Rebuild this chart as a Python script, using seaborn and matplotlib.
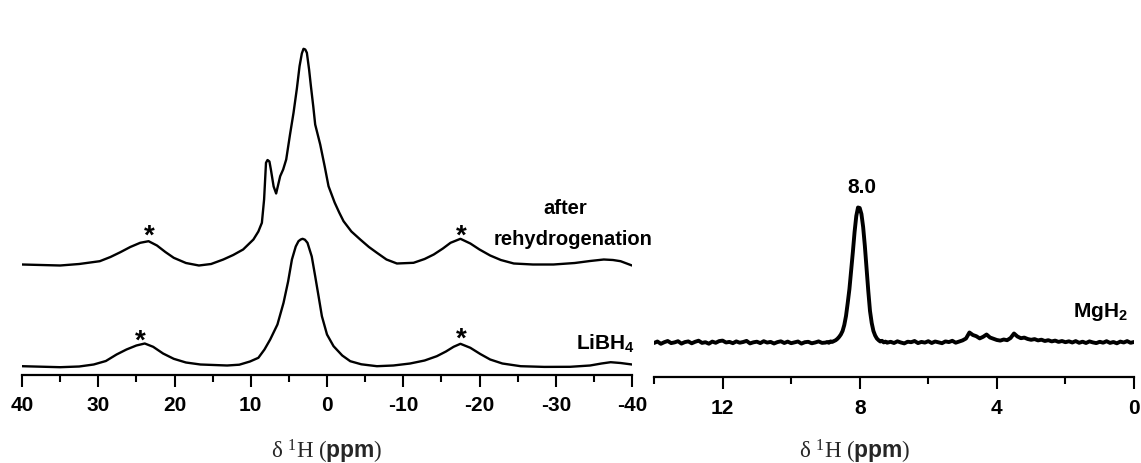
import numpy as np
import pandas as pd
import matplotlib
matplotlib.use("Agg")
import matplotlib.pyplot as plt
import seaborn as sns
from matplotlib.ticker import MultipleLocator

# ---------------- data ----------------
# LiBH4 spectrum (left panel, lower trace): chemical shift (ppm) / intensity
libh4_ppm = [40.0, 37.5, 35.0, 32.5, 30.6, 29.0, 27.6, 26.3, 25.0, 23.9, 22.8, 21.5,
             20.1, 18.5, 16.6, 13.1, 11.5, 10.1, 9.0, 8.2, 7.45, 6.5, 5.7, 5.1, 4.6,
             4.1, 3.74, 3.45, 3.2, 2.9, 2.56, 2.0, 1.55, 1.1, 0.67, 0.0, -0.86, -2.0, -3.05,
             -4.5, -6.55, -8.7, -10.9, -12.8, -14.4, -15.6, -16.6, -17.5, -18.8,
             -20.1, -21.4, -23.0, -25.4, -28.5, -31.9, -34.5, -36.0, -37.2, -38.5, -40.0]
libh4_int = [8.3, 7.8, 7.3, 8.0, 10.0, 13.5, 20.0, 25.0, 29.0, 31.0, 27.7, 21.0,
             15.7, 12.0, 10.0, 9.0, 9.8, 13.0, 16.7, 25.0, 35.0, 50.0, 71.7, 93.0, 115.0,
             128.0, 133.3, 135.0, 135.7, 134.8, 131.7, 118.0, 98.3, 78.0, 58.3, 40.0, 28.3, 19.0, 13.3,
             10.2, 8.3, 9.0, 11.0, 14.0, 18.3, 23.0, 27.7, 30.7, 26.7,
             20.5, 15.0, 11.0, 8.3, 7.6, 7.7, 9.0, 11.0, 12.3, 11.5, 10.0]

# after rehydrogenation (left panel, upper trace)
rehyd_ppm = [40.0, 37.5, 35.0, 32.5, 29.8, 28.4, 27.1, 25.8, 24.5, 23.4, 22.3, 21.2,
             20.1, 18.5, 16.8, 15.2, 13.6, 12.3, 11.0, 9.65, 9.0, 8.54, 8.25, 8.0,
             7.8, 7.55, 7.36, 7.0, 6.67, 6.14, 5.75, 5.35, 4.85, 4.39, 3.95, 3.6, 3.3, 3.08,
             2.85, 2.64, 2.35, 2.11, 1.8, 1.55, 0.89, 0.3, -0.2, -1.0, -1.6, -2.17, -3.2,
             -4.36, -5.5, -6.55, -7.8, -9.17, -11.35, -12.8, -14.0, -15.2, -16.2,
             -17.5, -18.8, -20.0, -21.4, -22.8, -24.5, -27.0, -29.7, -32.5, -34.5,
             -36.3, -37.5, -38.5, -40.0]
rehyd_int = [110.0, 109.5, 109.0, 110.5, 113.3, 117.5, 122.3, 127.5, 131.7, 133.3, 129.0, 122.5,
             116.7, 111.5, 109.0, 110.5, 115.0, 119.5, 125.0, 135.0, 143.0, 151.7, 175.0, 211.7,
             214.5, 213.0, 205.0, 188.0, 181.0, 198.3, 205.0, 215.0, 240.0, 261.7, 286.0, 308.3, 321.0, 325.7,
             325.0, 321.7, 305.0, 288.3, 268.0, 250.0, 230.0, 208.0, 188.3, 172.0, 162.0, 153.3, 143.0,
             135.0, 127.5, 121.7, 115.0, 111.0, 111.7, 115.5, 120.0, 126.0, 131.7,
             135.7, 131.0, 125.0, 119.0, 114.5, 111.0, 110.0, 110.0, 111.5, 113.5,
             115.0, 114.5, 113.3, 109.0]

# MgH2 spectrum (right panel)
mgh2_ppm = np.concatenate([np.linspace(14.0, 9.0, 51),
                           np.linspace(8.95, 7.20, 36),
                           np.linspace(7.1, 0.0, 72)])
mgh2_int = [34.0, 35.5, 33.2, 34.8, 36.0, 33.9, 34.6, 35.8, 33.4, 34.9,
            35.6, 33.7, 35.2, 36.3, 34.1, 34.8, 33.3, 35.4, 34.2, 35.9,
            36.4, 34.5, 35.1, 33.8, 35.6, 34.3, 35.0, 36.1, 33.6, 34.7,
            35.3, 33.9, 35.8, 34.4, 35.1, 33.5, 34.9, 35.7, 34.0, 35.4,
            33.8, 34.6, 35.5, 33.4, 34.8, 35.2, 33.7, 34.5, 35.6, 34.1, 34.4,
            # peak region
            35.0, 34.2, 35.6, 35.1, 36.0, 36.8, 38.2, 40.1, 42.5, 46.0,
            52.0, 61.0, 74.0, 88.0, 106.0, 125.0, 145.0, 161.0, 169.5, 169.0,
            163.0, 150.0, 131.0, 108.0, 86.0, 66.0, 54.0, 46.0, 41.5, 38.5,
            36.8, 35.5, 36.2, 34.6, 35.4, 34.3,
            # 7.1 .. 0.0
            35.2, 34.0, 35.7, 34.5, 33.6, 35.3, 34.8, 36.0, 33.9, 35.1,
            34.4, 35.8, 34.0, 35.5, 34.7, 33.8, 35.6, 34.9, 36.2, 34.3,
            35.4, 36.6, 38.5, 44.5, 42.0, 40.8, 38.6, 40.2, 42.5, 39.5,
            38.2, 37.0, 36.4, 37.5, 36.8, 39.0, 43.5, 40.5, 38.8, 39.4,
            38.0, 37.2, 37.9, 36.6, 37.3, 36.0, 36.8, 35.6, 36.4, 35.1,
            36.0, 34.8, 35.7, 34.5, 35.9, 34.2, 35.3, 34.0, 35.6, 34.6,
            33.9, 35.2, 34.3, 35.8, 34.1, 35.0, 33.7, 35.4, 34.5, 35.9,
            34.2, 35.0]

left_ticks = [40, 30, 20, 10, 0, -10, -20, -30, -40]
right_ticks = [12, 8, 4, 0]

# ---------------- style ----------------
sns.set_theme(style="ticks")
plt.rcParams["font.family"] = ["Liberation Sans", "DejaVu Sans"]
plt.rcParams["font.weight"] = "normal"
plt.rcParams["axes.unicode_minus"] = False
plt.rcParams["mathtext.fontset"] = "custom"
plt.rcParams["mathtext.rm"] = "Liberation Serif"
plt.rcParams["mathtext.it"] = "Liberation Serif:italic"
plt.rcParams["mathtext.bf"] = "Liberation Serif:bold"
plt.rcParams["mathtext.sf"] = "Liberation Sans:bold"

W, H = 1141, 464
fig = plt.figure(figsize=(W / 100, H / 100), dpi=100)
axL = fig.add_axes([22 / W, (H - 375.5) / H, 610 / W, 336 / H])
axR = fig.add_axes([654 / W, (H - 378) / H, 480 / W, 338 / H])

dfL1 = pd.DataFrame({"ppm": libh4_ppm, "int": libh4_int})
dfL2 = pd.DataFrame({"ppm": rehyd_ppm, "int": rehyd_int})
dfR = pd.DataFrame({"ppm": mgh2_ppm, "int": mgh2_int})

sns.lineplot(data=dfL1, x="ppm", y="int", ax=axL, color="black", lw=1.7,
             sort=False, estimator=None)
sns.lineplot(data=dfL2, x="ppm", y="int", ax=axL, color="black", lw=1.7,
             sort=False, estimator=None)
sns.lineplot(data=dfR, x="ppm", y="int", ax=axR, color="black", lw=2.8,
             sort=False, estimator=None)

axL.set_xlim(40, -40)
axL.set_ylim(0, 336)
axR.set_xlim(14, 0)
axR.set_ylim(0, 338)

for ax in (axL, axR):
    for s in ("top", "left", "right"):
        ax.spines[s].set_visible(False)
    ax.spines["bottom"].set_linewidth(1.6)
    ax.spines["bottom"].set_color("black")
    ax.set_yticks([])
    ax.set_ylabel("")
    ax.tick_params(axis="x", which="major", direction="out", length=8.5, width=1.5,
                   pad=6.5, labelsize=15, colors="black", bottom=True)
    ax.tick_params(axis="x", which="minor", direction="out", length=5, width=1.5,
                   colors="black", bottom=True)

axL.set_xticks(left_ticks)
axL.set_xticklabels([str(t) for t in left_ticks], fontweight="bold")
axL.xaxis.set_minor_locator(MultipleLocator(5))
axR.set_xticks(right_ticks)
axR.set_xticklabels([str(t) for t in right_ticks], fontweight="bold")
axR.xaxis.set_minor_locator(MultipleLocator(2))

xlabel = r"$\mathrm{δ\ ^{1}H\ (}\mathsf{ppm}\mathrm{)}$"
axL.set_xlabel(xlabel, fontsize=16.5)
axL.xaxis.set_label_coords(0.5, -0.185)
axR.set_xlabel(xlabel, fontsize=16.5)
axR.xaxis.set_label_coords(0.419, -0.177)

# annotations
tkw = dict(color="black", fontweight="bold", clip_on=False)
axL.text(-31.2, 161, "after", ha="center", va="baseline", fontsize=14.5, **tkw)
axL.text(-32.3, 130.5, "rehydrogenation", ha="center", va="baseline", fontsize=14.5, **tkw)
axL.text(-32.6, 26, r"$\mathsf{LiBH_4}$", ha="left", va="baseline", fontsize=15, **tkw)
for xs, ys in [(23.3, 132), (24.5, 27), (-17.6, 132), (-17.6, 29)]:
    axL.text(xs, ys, "*", ha="center", va="baseline", fontsize=20, **tkw)
axR.text(1.77, 60.7, r"$\mathsf{MgH_2}$", ha="left", va="baseline", fontsize=15, **tkw)
axR.text(7.93, 184.7, "8.0", ha="center", va="baseline", fontsize=15, **tkw)

fig.savefig("out.png", dpi=100)
